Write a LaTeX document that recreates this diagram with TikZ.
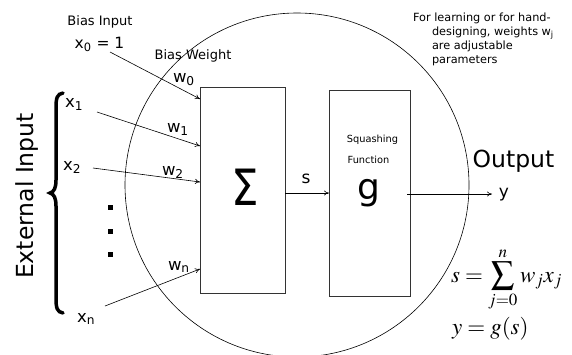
\documentclass[tikz,border=0pt]{standalone}
\usepackage{mathptmx}
\usepackage{fontspec}
\setmainfont{DejaVu Sans}
\usetikzlibrary{arrows.meta}
\begin{document}
\begin{tikzpicture}[x=1pt,y=-1pt,
  every node/.style={inner sep=0pt, outer sep=0pt},
  bigsans/.style={font=\fontsize{23.5}{28}\selectfont},
  varlbl/.style={anchor=base west, font=\fontsize{16.5}{20}\selectfont},
  smalllbl/.style={anchor=base, font=\fontsize{13}{16}\selectfont},
  notelbl/.style={anchor=base west, font=\fontsize{11.3}{14}\selectfont},
  tinylbl/.style={anchor=base, font=\fontsize{9.8}{12}\selectfont},
  eqlbl/.style={anchor=base west, font=\fontsize{23}{27}\selectfont},
  unitbox/.style={draw=black!80, line width=0.6pt, anchor=north west},
  arr/.style={-{To[length=5pt,width=5pt]}, line width=0.6pt},
  dotsq/.style={fill=black, minimum width=5pt, minimum height=5pt}
]
\useasboundingbox (0,0) rectangle (572,354);
\begin{scope}
\clip (0,0) rectangle (572,354);
\draw[line width=0.6pt] (297,185) circle[radius=172pt];
\end{scope}

% boxes
\node[unitbox, minimum width=85pt, minimum height=206pt] (sum) at (200,87) {};
\node[unitbox, minimum width=81pt, minimum height=206pt] (gbox) at (329,90) {};
\node[anchor=base, font=\fontsize{50}{56}\selectfont] (sig) at (245.5,205) {\scalebox{0.87}[1]{Σ}};
\node[anchor=base, font=\fontsize{36}{40}\selectfont] (gl) at (369,199) {g};
\node[tinylbl] (sq) at (372.5,142) {Squashing};
\node[tinylbl] (fn) at (368.5,163) {Function};

% labels
\node[smalllbl] (bi) at (100,25) {Bias Input};
\node[anchor=base, font=\fontsize{15.5}{18}\selectfont] (x0) at (99.5,48) {x\textsubscript{0} = 1};
\node[smalllbl] (bw) at (193,59) {Bias Weight};
\node[varlbl] (w0) at (173,82) {w\textsubscript{0}};
\node[varlbl] (w1) at (167,132) {w\textsubscript{1}};
\node[varlbl] (w2) at (162,175) {w\textsubscript{2}};
\node[varlbl] (wn) at (168,270) {w\textsubscript{n}};
\node[varlbl] (x1) at (65,107) {x\textsubscript{1}};
\node[varlbl] (x2) at (63,170) {x\textsubscript{2}};
\node[varlbl] (xn) at (77,322) {x\textsubscript{n}};
\node[dotsq] (d1) at (110,207) {};
\node[dotsq] (d2) at (110,231) {};
\node[dotsq] (d3) at (110,254) {};
\node[bigsans, anchor=base, rotate=90] (ext) at (33,196) {External Input};
\node[bigsans, anchor=base] (outp) at (513.5,167) {Output};
\node[anchor=base, font=\fontsize{17}{20}\selectfont] (slbl) at (306,183) {s};
\node[anchor=base, font=\fontsize{17}{20}\selectfont] (ylbl) at (504,197) {y};

\node[notelbl] (n1) at (413,21) {For learning or for hand-};
\node[notelbl] (n2) at (432,35) {designing, weights w\textsubscript{j}};
\node[notelbl] (n3) at (432,49) {are adjustable};
\node[notelbl] (n4) at (432,63) {parameters};

\node[eqlbl] (eq1) at (451,282) {$\displaystyle s=\sum_{j=0}^{n} w_j x_j$};
\node[eqlbl] (eq2) at (452,334) {$y=g(s)$};

% brace
\draw[line width=3.5pt, line cap=round]
  (63,93) .. controls (57,94) and (56,98) .. (56,108)
  -- (56,180) .. controls (56,188) and (54,192) .. (50,193)
  .. controls (54,194) and (56,198) .. (56,206)
  -- (56,298) .. controls (56,308) and (57,312) .. (63,313);

% connectors
\coordinate (s0) at (110,52);
\coordinate (s1) at (97,112);
\coordinate (s2) at (93,168);
\coordinate (sn) at (105,306);
\coordinate (outend) at (492,194);
\draw[arr] (s0) -- ([yshift=-12pt]sum.north west);
\draw[arr] (s1) -- ([yshift=-59pt]sum.north west);
\draw[arr] (s2) -- ([yshift=-95pt]sum.north west);
\draw[arr] (sn) -- ([yshift=-182pt]sum.north west);
\draw[arr] ([yshift=-3pt]sum.east) -- (gbox.west);
\draw[arr] ([xshift=-3pt,yshift=-1pt]gbox.east) -- (outend);
\end{tikzpicture}
\end{document}
